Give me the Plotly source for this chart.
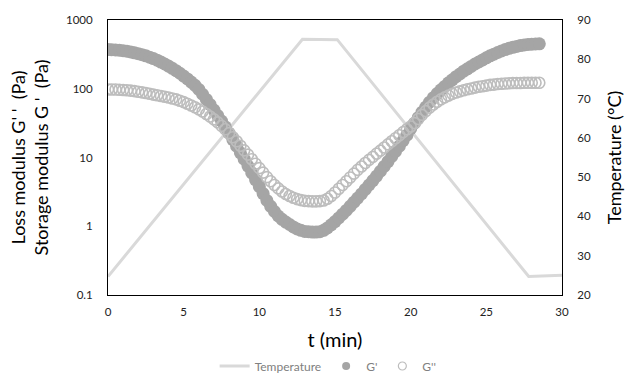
import plotly.graph_objects as go

# Temperature programme
temp_time = [0, 12.85, 15.15, 27.8, 30]
temp_c = [24.7, 85.1, 85.0, 24.7, 25.0]

# Sampling step of the modulus readings (min)
step_min = 0.25

# Storage modulus G' (Pa), read every 0.25 min from t = 0 to 28.5
g_storage = [
    372, 370, 367, 363, 357, 351, 343, 333, 324, 313,
    301, 288, 275, 260, 244, 229, 214, 198, 183, 168,
    153, 139, 125, 112, 97.7, 83.2, 70.0, 58.9, 49.0, 40.7,
    33.9, 27.9, 22.6, 18.2, 14.6, 11.7, 9.44, 7.50, 5.96, 4.73,
    3.76, 2.99, 2.37, 1.95, 1.64, 1.41, 1.26, 1.15, 1.06, 0.977,
    0.912, 0.871, 0.841, 0.832, 0.822, 0.822, 0.832, 0.871, 0.944, 1.05,
    1.17, 1.32, 1.50, 1.70, 1.95, 2.24, 2.57, 2.95, 3.43, 3.98,
    4.62, 5.37, 6.31, 7.41, 8.71, 10.4, 12.3, 14.6, 17.6, 21.1,
    26.3, 31.6, 38.0, 45.7, 54.3, 63.8, 74.1, 85.1, 96.6, 108,
    122, 135, 150, 164, 180, 195, 211, 229, 245, 263,
    282, 301, 318, 337, 355, 372, 387, 401, 413, 424,
    433, 440, 445, 448, 450,
]

# Loss modulus G'' (Pa), same sampling
g_loss = [
    97.7, 97.7, 97.3, 96.6, 95.9, 95.1, 93.8, 92.3, 90.6, 88.7,
    86.7, 84.5, 82.2, 80.4, 78.5, 76.6, 74.5, 72.3, 70.0, 67.0,
    63.8, 60.5, 57.1, 53.7, 50.1, 46.6, 43.0, 39.4, 35.9, 32.4,
    28.8, 25.7, 22.6, 19.7, 17.2, 14.8, 12.7, 11.0, 9.44, 8.13,
    7.00, 6.03, 5.19, 4.52, 3.98, 3.55, 3.20, 2.95, 2.75, 2.60,
    2.48, 2.40, 2.34, 2.32, 2.30, 2.30, 2.32, 2.37, 2.51, 2.75,
    3.09, 3.51, 3.98, 4.52, 5.13, 5.82, 6.61, 7.41, 8.32, 9.23,
    10.2, 11.4, 12.6, 14.0, 15.5, 17.2, 19.1, 21.1, 23.4, 25.7,
    28.2, 31.6, 36.3, 41.7, 47.3, 53.1, 58.9, 64.6, 70.0, 75.0,
    79.4, 84.1, 88.1, 91.6, 95.1, 98.2, 101, 104, 107, 109,
    111, 114, 115, 117, 118, 119, 120, 121, 121, 121,
    122, 122, 122, 122, 122,
]

t_storage = [i * step_min for i in range(len(g_storage))]
t_loss = [i * step_min for i in range(len(g_loss))]

x_ticks = [0, 5, 10, 15, 20, 25, 30]
mod_ticks = [0.1, 1, 10, 100, 1000]
mod_tick_text = ["0.1", "1", "10", "100", "1000"]
temp_ticks = [20, 30, 40, 50, 60, 70, 80, 90]

FONT = "Lato, 'Open Sans', sans-serif"
NB = "\u00a0"

W, H = 625, 374

G1_COLOR = "#a5a5a5"
G2_COLOR = "#bdbdbd"
T_COLOR = "#d9d9d9"

fig = go.Figure()
fig.add_trace(go.Scatter(
    x=temp_time, y=temp_c, mode="lines", name="Temperature",
    line=dict(color=T_COLOR, width=3), yaxis="y",
))
fig.add_trace(go.Scatter(
    x=t_storage, y=g_storage, mode="markers", name="G'", showlegend=False,
    marker=dict(symbol="circle", color=G1_COLOR, size=13, line=dict(width=0)),
    yaxis="y2",
))
fig.add_trace(go.Scatter(
    x=t_loss, y=g_loss, mode="markers", name="G''", showlegend=False,
    marker=dict(symbol="circle-open", color=G2_COLOR, size=11, line=dict(width=1.6, color=G2_COLOR)),
    yaxis="y2",
))
# legend entries with small symbols, as in the original legend
fig.add_trace(go.Scatter(
    x=[None], y=[None], mode="markers", name="G'",
    marker=dict(symbol="circle", color=G1_COLOR, size=8), yaxis="y2",
))
fig.add_trace(go.Scatter(
    x=[None], y=[None], mode="markers", name="G''",
    marker=dict(symbol="circle-open", color=G2_COLOR, size=8, line=dict(width=1.2, color=G2_COLOR)),
    yaxis="y2",
))

axis_font = dict(family=FONT, size=11.5, color="#222222")
title_font = dict(family=FONT, size=18, color="black")

left_title = ("Loss modulus G'" + NB + "'" + NB + NB + "(Pa)<br>"
              "Storage modulus G" + NB + "'" + NB + NB + "(Pa)")

fig.update_layout(
    width=W, height=H,
    margin=dict(l=108, r=63, t=20, b=79),
    paper_bgcolor="white", plot_bgcolor="white",
    font=dict(family=FONT, color="#333333"),
    showlegend=True,
    legend=dict(
        orientation="h", xref="container", yref="container",
        x=0.525, xanchor="center", y=(H - 366) / H, yanchor="middle",
        font=dict(family=FONT, size=12, color="#808080"),
        bgcolor="rgba(0,0,0,0)", itemwidth=30,
    ),
    xaxis=dict(
        range=[0, 30], tickvals=x_ticks, showgrid=False, zeroline=False,
        showline=True, linecolor="black", linewidth=1, mirror=True,
        ticks="", tickfont=axis_font, ticklabelstandoff=6, automargin=False,
        title=dict(text="t (min)", font=dict(family=FONT, size=20, color="black"), standoff=18),
    ),
    yaxis=dict(
        range=[20, 90], tickvals=temp_ticks, side="right", showgrid=False, zeroline=False,
        showline=True, linecolor="black", linewidth=1, automargin=False,
        ticks="", tickfont=axis_font, ticklabelstandoff=12,
        title=dict(text="Temperature (°C)", font=title_font, standoff=20),
    ),
    yaxis2=dict(
        type="log", range=[-1, 3], tickvals=mod_ticks, ticktext=mod_tick_text,
        side="left", overlaying="y", showgrid=False, zeroline=False,
        showline=True, linecolor="black", linewidth=1, automargin=False,
        ticks="", tickfont=axis_font, ticklabelstandoff=12,
        title=dict(text=left_title, font=title_font, standoff=12),
    ),
)

fig.write_html("out.html")
